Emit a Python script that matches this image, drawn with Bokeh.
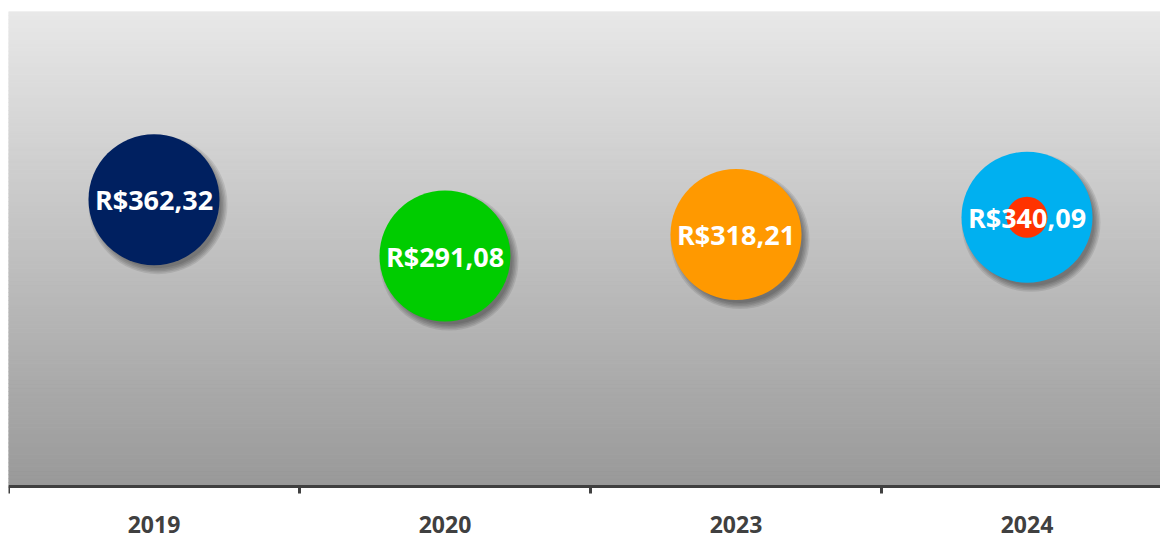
import numpy as np
from bokeh.plotting import figure
from bokeh.models import Range1d, FixedTicker, ColumnDataSource
from bokeh.core.properties import value
from bokeh.embed import file_html
from bokeh.resources import INLINE

# ---- data ----
categories = ["2019", "2020", "2023", "2024"]
values = [362.32, 291.08, 318.21, 340.09]
value_labels = ["R$362,32", "R$291,08", "R$318,21", "R$340,09"]
bubble_colors = ["#002060", "#00CC00", "#FF9900", "#00B0F0"]
inner_categories = ["2024"]
inner_values = [340.09]
inner_colors = ["#FF3300"]

# ---- layout constants ----
W, H = 1160, 539
TOP = 11
LEFT = 8
BAND_PX = 291.0
Y_MAX = 600.0
AXIS_PX = 475.0                 # pixels from y=0 to y=Y_MAX
FRAME_H = H - TOP
FRAME_W = W - LEFT
PX_PER_UNIT = AXIS_PX / Y_MAX
y_min = -(FRAME_H - AXIS_PX) / PX_PER_UNIT
x_end = FRAME_W / BAND_PX

BUBBLE = 131
INNER = 41

xpos = [categories.index(c) + 0.5 for c in categories]
inner_x = [categories.index(c) + 0.5 for c in inner_categories]

p = figure(width=W, height=H, x_range=Range1d(0, x_end), y_range=Range1d(y_min, Y_MAX),
           output_backend="svg", toolbar_location=None, y_axis_location=None,
           min_border_left=LEFT, min_border_right=0, min_border_top=TOP, min_border_bottom=0)
p.outline_line_color = None
p.grid.visible = False
p.background_fill_color = "white"
p.border_fill_color = "white"

# gradient background (plot area from 0 to Y_MAX)
N = 120
edges = np.linspace(0, Y_MAX, N + 1)
t = (edges[:-1] + edges[1:]) / 2 / Y_MAX
top_c, bot_c = 232, 153
grays = [int(round(bot_c + (top_c - bot_c) * v)) for v in t]
grad_cols = ["#%02x%02x%02x" % (g, g, g) for g in grays]
p.quad(left=0, right=x_end, bottom=edges[:-1], top=edges[1:],
       fill_color=grad_cols, line_color=grad_cols, line_width=1)

# shadows
dx = 4 / BAND_PX
dy = -5 / PX_PER_UNIT
sx = [x + dx for x in xpos]
sy = [v + dy for v in values]
for k in range(5):
    p.scatter(sx, sy, size=BUBBLE - 4 + 3 * k, marker="circle",
              fill_color="black", fill_alpha=0.09, line_color=None)

src = ColumnDataSource(dict(x=xpos, y=values, color=bubble_colors, label=value_labels))
p.scatter("x", "y", source=src, size=BUBBLE, marker="circle",
          fill_color="color", line_color=None)
p.scatter(inner_x, inner_values, size=INNER, marker="circle",
          fill_color=inner_colors, line_color=None)
p.text("x", "y", text="label", source=src, text_align="center", text_baseline="middle",
       text_font=value("Open Sans"), text_font_style="bold", text_font_size="27px",
       text_color="white")

# x axis at y=0
ax = p.xaxis[0]
ax.fixed_location = 0
ax.ticker = FixedTicker(ticks=xpos, minor_ticks=list(range(len(categories) + 1)))
ax.major_label_overrides = {x: c for x, c in zip(xpos, categories)}
ax.axis_line_color = "#404040"
ax.axis_line_width = 3
ax.major_tick_out = 0
ax.major_tick_in = 0
ax.minor_tick_out = 7
ax.minor_tick_in = 0
ax.minor_tick_line_color = "#404040"
ax.minor_tick_line_width = 3
ax.major_label_standoff = 22
ax.major_label_text_font = "Open Sans"
ax.major_label_text_font_style = "bold"
ax.major_label_text_font_size = "23px"
ax.major_label_text_color = "#404040"

open("out.html", "w").write(file_html(p, INLINE))
